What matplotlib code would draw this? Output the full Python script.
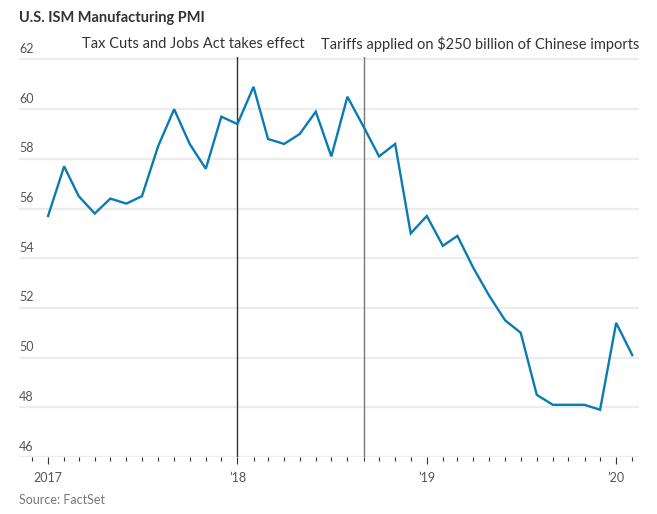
import numpy as np
import pandas as pd
import matplotlib
matplotlib.use("Agg")
import matplotlib.pyplot as plt
import matplotlib.dates as mdates
import matplotlib.transforms as mtransforms

plt.rcParams['font.family'] = ['Lato', 'DejaVu Sans']

# monthly ISM manufacturing PMI, Jan 2017 - Feb 2020
months = pd.date_range('2017-01-01', '2020-02-01', freq='MS')
pmi = [
    55.7, 57.7, 56.5, 55.8, 56.4, 56.2, 56.5, 58.5, 60.0, 58.6, 57.6, 59.7,
    59.4, 60.9, 58.8, 58.6, 59.0, 59.9, 58.1, 60.5, 59.3, 58.1, 58.6, 55.0,
    55.7, 54.5, 54.9, 53.6, 52.5, 51.5, 51.0, 48.5, 48.1, 48.1, 48.1, 47.9,
    51.4, 50.1,
]
y_ticks = [46, 48, 50, 52, 54, 56, 58, 60, 62]
year_ticks = pd.to_datetime(['2017-01-01', '2018-01-01', '2019-01-01', '2020-01-01'])
year_labels = ['2017', '\u201918', '\u201919', '\u201920']
events = pd.to_datetime(['2018-01-01', '2018-09-01'])
event_labels = ['Tax Cuts and Jobs Act takes effect',
                'Tariffs applied on $250 billion of Chinese imports']

fig = plt.figure(figsize=(6.57, 5.14), dpi=100)
ax = fig.add_axes([19 / 657, 57 / 514, 620 / 657, 400 / 514])
ax.set_position([19 / 657, 1 - 457 / 514, 620 / 657, 400 / 514])

# grid
for v in y_ticks:
    ax.axhline(v, color='#ececec', lw=1.6, zorder=0)
    ax.text(0, v + 0.18, str(v), transform=mtransforms.blended_transform_factory(ax.transAxes, ax.transData),
            ha='left', va='bottom', fontsize=9, color='#555555')

ax.axvline(events[0], color='#333333', lw=1.0, zorder=1)
ax.axvline(events[1], color='#777777', lw=1.0, zorder=1)

ax.plot(months, pmi, color='#0a7bb3', lw=1.7, zorder=3, solid_joinstyle='miter')

ax.set_ylim(46, 62.1)
ax.set_xlim(pd.Timestamp('2016-11-06'), pd.Timestamp('2020-02-14'))

for s in ax.spines.values():
    s.set_visible(False)
ax.set_yticks([])

ax.set_xticks(year_ticks)
ax.set_xticklabels(year_labels, fontsize=9, color='#555555')
ax.xaxis.set_minor_locator(mdates.MonthLocator())
ax.tick_params(axis='x', which='major', length=5, width=0.8, color='#333333', pad=6)
ax.tick_params(axis='x', which='minor', length=3, width=0.8, color='#333333')

# event labels
fig.text(305 / 657, 1 - 44 / 514, event_labels[0], ha='right', va='center',
         fontsize=10.5, color='#333333')
fig.text(639 / 657, 1 - 44 / 514, event_labels[1], ha='right', va='center',
         fontsize=10.5, color='#333333')

fig.text(19 / 657, 1 - 18 / 514, 'U.S. ISM Manufacturing PMI', ha='left', va='center',
         fontsize=10.5, fontweight='bold', color='#333333')
fig.text(19 / 657, 1 - 500 / 514, 'Source: FactSet', ha='left', va='center',
         fontsize=9, color='#777777')

fig.savefig('out.png', dpi=100)
